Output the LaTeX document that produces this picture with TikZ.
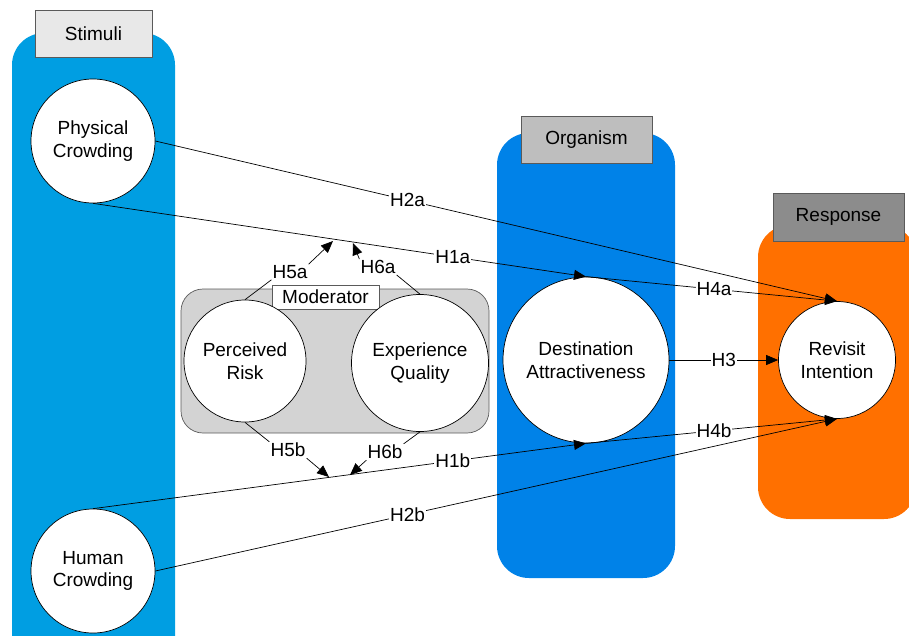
\documentclass[tikz,border=0pt]{standalone}
\usepackage{fontspec}
\setmainfont{Liberation Sans}
\usetikzlibrary{arrows.meta}
\definecolor{stimblue}{RGB}{0,158,226}
\definecolor{orgblue}{RGB}{0,130,232}
\definecolor{respor}{RGB}{255,112,0}
\definecolor{lgray}{RGB}{232,232,232}
\definecolor{mgray}{RGB}{190,190,190}
\definecolor{dgray}{RGB}{140,140,140}
\definecolor{modgray}{RGB}{211,211,211}
\definecolor{edgegray}{RGB}{90,90,90}
\begin{document}
\begin{tikzpicture}[x=1pt,y=-1pt,
  txt/.style={font=\fontsize{19}{22.5}\selectfont},
  circ/.style={txt,circle,draw=black,line width=0.7pt,fill=white,align=center,inner sep=0pt},
  colhead/.style={txt,draw=edgegray,line width=0.8pt,minimum width=117pt,minimum height=47pt,inner sep=0pt},
  hyp/.style={txt,fill=white,inner sep=1pt},
  conn/.style={line width=0.7pt,draw=black},
  arr/.style={conn,-{Triangle[length=12pt,width=10pt]}}
]
\clip (0,0) rectangle (909,635);
% columns
\fill[stimblue,rounded corners=32pt] (12,33) rectangle (175,668);
\fill[orgblue,rounded corners=32pt] (497,133) rectangle (675,578);
\fill[respor,rounded corners=32pt] (758,225) rectangle (916,519);
% column headers
\node[colhead,fill=lgray] (hstim) at (93.5,33.5) {Stimuli};
\node[colhead,fill=mgray,minimum width=131pt] (horg) at (586.5,139.5) {Organism};
\node[colhead,fill=dgray,minimum width=131pt,minimum height=48pt] (hresp) at (838.5,217) {Response};
% moderator
\draw[fill=modgray,draw=edgegray,line width=0.7pt,rounded corners=22pt] (181,289) rectangle (489,433);
\node[txt,draw=edgegray,fill=white,line width=0.7pt,minimum width=107pt,minimum height=24pt,inner sep=0pt] (mod) at (325.5,297) {Moderator};
% circles
\node[circ,minimum size=124pt] (pc) at (93,141) {Physical\\Crowding};
\node[circ,minimum size=124pt] (hc) at (93,571) {Human\\Crowding};
\node[circ,minimum size=122pt] (pr) at (245,361) {Perceived\\Risk};
\node[circ,minimum size=137pt] (eq) at (420,363) {Experience\\Quality};
\node[circ,minimum size=166pt] (da) at (586,360) {Destination\\Attractiveness};
\node[circ,minimum size=117pt] (ri) at (837,360) {Revisit\\Intention};
% main connectors
\draw[arr] (pc.east) -- node[hyp,pos=0.37] {H2a} (ri.north);
\draw[arr] (pc.south) -- node[hyp,pos=0.73] {H1a} (da.north);
\draw[arr] (da.north) -- node[hyp,pos=0.51] {H4a} (ri.north);
\draw[arr] (da.east) -- node[hyp,pos=0.5] {H3} (ri.west);
\draw[arr] (hc.north) -- node[hyp,pos=0.73] {H1b} (da.south);
\draw[arr] (da.south) -- node[hyp,pos=0.51] {H4b} (ri.south);
\draw[arr] (hc.east) -- node[hyp,pos=0.37] {H2b} (ri.south);
% moderating effects
\node[hyp] (h5a) at (290,272) {H5a};
\node[hyp] (h6a) at (378,267) {H6a};
\node[hyp] (h5b) at (288,450) {H5b};
\node[hyp] (h6b) at (385,452) {H6b};
\coordinate (t5a) at (333,241);
\coordinate (t6a) at (353,243);
\coordinate (t5b) at (329,477);
\coordinate (t6b) at (350,475);
\draw[conn] (pr.north) -- (h5a.south west);
\draw[arr] (h5a.north east) -- (t5a);
\draw[conn] (eq.north) -- (h6a.south east);
\draw[arr] (h6a.north west) -- (t6a);
\draw[conn] (pr.south) -- (h5b.north west);
\draw[arr] (h5b.south east) -- (t5b);
\draw[conn] (eq.south) -- (h6b.north east);
\draw[arr] (h6b.south west) -- (t6b);
\end{tikzpicture}
\end{document}
